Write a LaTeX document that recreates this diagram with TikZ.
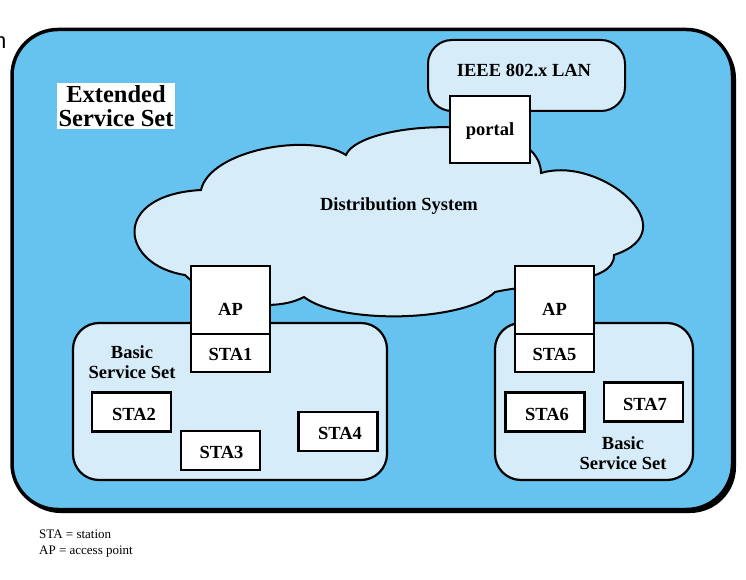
\documentclass[tikz,border=0pt]{standalone}
\usepackage{fontspec}
\setmainfont{Liberation Serif}
\newfontfamily\cutfont{Liberation Sans}
\definecolor{essblue}{RGB}{102,194,238}
\definecolor{paleblue}{RGB}{214,236,249}
\tikzset{
  lbl/.style={font=\fontsize{18.5}{20}\selectfont\bfseries, inner sep=0pt},
  whitebox/.style={draw=black, line width=1.8pt, fill=white, inner sep=0pt},
  stabox/.style={draw=black, line width=2.6pt, fill=white, inner sep=0pt, minimum width=79pt, minimum height=39pt},
  palefill/.style={draw=black, line width=2pt, fill=paleblue},
}
\begin{document}
\begin{tikzpicture}[x=1pt,y=-1pt]
\useasboundingbox (0,0) rectangle (746,580);
% cut-off letter at the left edge (a fragment, as in the reference)
\node[anchor=base west, inner sep=0pt, font=\cutfont\fontsize{22}{24}\selectfont] (cut) at (-6,49) {n};
% outer ESS box with shadow
\fill[black, rounded corners=46pt] (14.5,32.5) rectangle (736,513);
\draw[line width=3.5pt, fill=essblue, rounded corners=46pt] (12,29.5) rectangle (732.5,509.5);
% ESS label
\node[fill=white, inner sep=2pt, align=center, font=\fontsize{24.5}{24}\selectfont\bfseries] (ess) at (116,106) {Extended\\Service Set};
% IEEE LAN
\draw[palefill, rounded corners=24pt] (428,40) rectangle (625,111);
\node[lbl] (lan) at (524,70) {IEEE 802.x LAN};
% cloud
\draw[palefill] (201,190)
  .. controls (210,150) and (310,132) .. (346,155)
  .. controls (360,120) and (540,110) .. (541,173)
  .. controls (600,155) and (690,230) .. (614,255)
  .. controls (615,285) and (540,282) .. (495,292)
  .. controls (465,322) and (340,325) .. (304,297)
  .. controls (270,315) and (210,300) .. (185,275)
  .. controls (120,265) and (110,195) .. (201,190) -- cycle;
\node[lbl] (ds) at (399,206) {Distribution System};
% portal
\node[whitebox, minimum width=80pt, minimum height=67pt] (portal) at (490,129.5) {};
\node[lbl] (portaltxt) at (490,131) {portal};
% BSS boxes
\draw[palefill, line width=2.2pt, rounded corners=26pt] (73,323) rectangle (387,480);
\draw[palefill, line width=2.2pt, rounded corners=26pt] (495,323) rectangle (693,480);
% APs
\node[whitebox, minimum width=79pt, minimum height=68pt] (apL) at (230.5,300) {};
\node[lbl] (apLtxt) at (230.5,309) {AP};
\node[whitebox, minimum width=79pt, minimum height=38pt] (sta1) at (230.5,353) {};
\node[lbl] (sta1txt) at (230.5,354) {STA1};
\node[whitebox, minimum width=79pt, minimum height=68pt] (apR) at (554.5,300) {};
\node[lbl] (apRtxt) at (554.5,309) {AP};
\node[whitebox, minimum width=79pt, minimum height=38pt] (sta5) at (554.5,353) {};
\node[lbl] (sta5txt) at (554.5,354) {STA5};
% stations
\node[stabox] (sta2) at (131.5,412) {};
\node[lbl] (sta2txt) at (134,414) {STA2};
\node[stabox] (sta3) at (220.5,450.5) {};
\node[lbl] (sta3txt) at (221.5,452.5) {STA3};
\node[stabox] (sta4) at (338,431.5) {};
\node[lbl] (sta4txt) at (340,433) {STA4};
\node[stabox] (sta6) at (545,412) {};
\node[lbl] (sta6txt) at (547,414.5) {STA6};
\node[stabox] (sta7) at (643.5,402) {};
\node[lbl] (sta7txt) at (645,404) {STA7};
% BSS labels
\node[lbl, align=center, font=\fontsize{18.5}{20}\selectfont\bfseries] (bssL) at (132,362) {Basic\\Service Set};
\node[lbl, align=center, font=\fontsize{18.5}{20}\selectfont\bfseries] (bssR) at (623,453) {Basic\\Service Set};
% legend
\node[anchor=base west, inner sep=0pt, align=left, font=\fontsize{13}{16}\selectfont] (legend) at (39,554) {STA = station\\AP = access point};
\end{tikzpicture}
\end{document}
